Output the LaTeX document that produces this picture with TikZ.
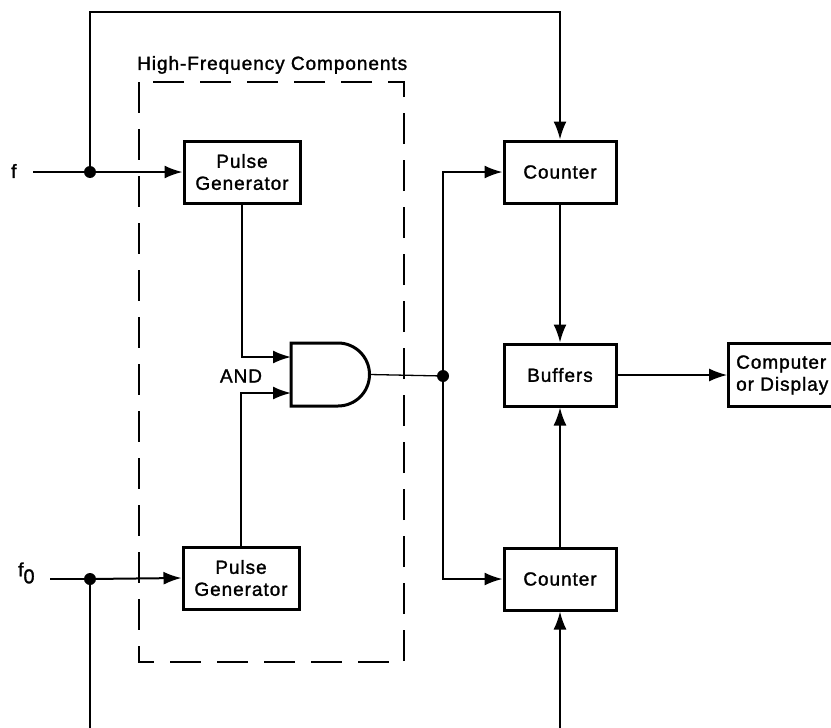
\documentclass[tikz,border=0pt]{standalone}
\usepackage{fontspec}
\setmainfont{Liberation Sans}[LetterSpace=5,FakeBold=1.5]
\usetikzlibrary{arrows.meta}
\begin{document}
\begin{tikzpicture}[x=1pt,y=-1pt,
  every node/.style={font=\fontsize{19}{22}\selectfont},
  blk/.style={draw,line width=3pt,minimum width=116pt,minimum height=62pt,inner sep=0pt,align=center},
  wire/.style={line width=2pt},
  thin/.style={line width=1.3pt},
  arr/.style={-{Latex[length=18pt,width=13pt]}},
  dot/.style={circle,fill,inner sep=0pt,minimum size=12pt}]
\useasboundingbox (0,0) rectangle (831,728);
\begin{scope}
\clip (0,0) rectangle (831,728);
% dashed region
\draw[line width=2pt,dash pattern=on 31pt off 16pt] (139,82) rectangle (404,662);
\node[anchor=south west,inner sep=0pt] (hf) at (137,74) {High-Frequency Components};
% blocks
\node[blk] (pg1) at (242,172) {Pulse\\Generator};
\node[blk] (pg2) at (241,578) {Pulse\\Generator};
\node[blk,minimum width=112pt] (c1) at (560,172) {Counter};
\node[blk,minimum width=112pt] (buf) at (560,375) {Buffers};
\node[blk,minimum width=112pt] (c2) at (560,579) {Counter};
\node[draw,line width=3pt,minimum width=112pt,minimum height=63pt,inner sep=0pt,anchor=west] (comp) at (727,375) {};
\node[anchor=west,align=left,inner sep=0pt] (comptxt) at (736,375) {Computer\\or Display};
% AND gate
\draw[line width=3pt] (291,343) -- (338,343) arc[start angle=-90,end angle=90,radius=31.5] -- (291,406) -- cycle;
\coordinate (in1) at (291,357);
\coordinate (in2) at (291,393);
\coordinate (gout) at (369.5,374.5);
\node (andl) at (241,376) {AND};
% inputs
\node[anchor=west,inner sep=0pt] (f) at (11,171) {f};
\node[anchor=west,inner sep=0pt] (f0) at (18,573) {f\raisebox{-7pt}{\fontsize{20}{20}\selectfont 0}};
\node[dot] (j1) at (90,172) {};
\node[dot] (j2) at (90,579) {};
\node[dot] (j3) at (443,376) {};
\draw[wire] (33,172) -- (j1);
\draw[wire,arr] (j1) -- (pg1.west);
\draw[wire] (50,579) -- (j2);
\draw[wire,arr] (j2) -- (pg2.west);
\draw[wire,arr] (j1) -- (90,12) -- (560,12) -- (c1.north);
\draw[wire,arr] (j2) -- (90,760) -- (560,760) -- (c2.south);
% pulse gens to gate
\draw[wire,arr] (pg1.south) |- (in1);
\draw[wire,arr] (pg2.north) |- (in2);
% gate to counters
\draw[thin] (gout) -- (j3);
\draw[wire,arr] (j3) -- (443,172) -- (c1.west);
\draw[wire,arr] (j3) -- (443,579) -- (c2.west);
% counters to buffers
\draw[wire,arr] (c1.south) -- (buf.north);
\draw[wire,arr] (c2.north) -- (buf.south);
\draw[thin,arr] (buf.east) -- (comp.west);
\end{scope}
\end{tikzpicture}
\end{document}
